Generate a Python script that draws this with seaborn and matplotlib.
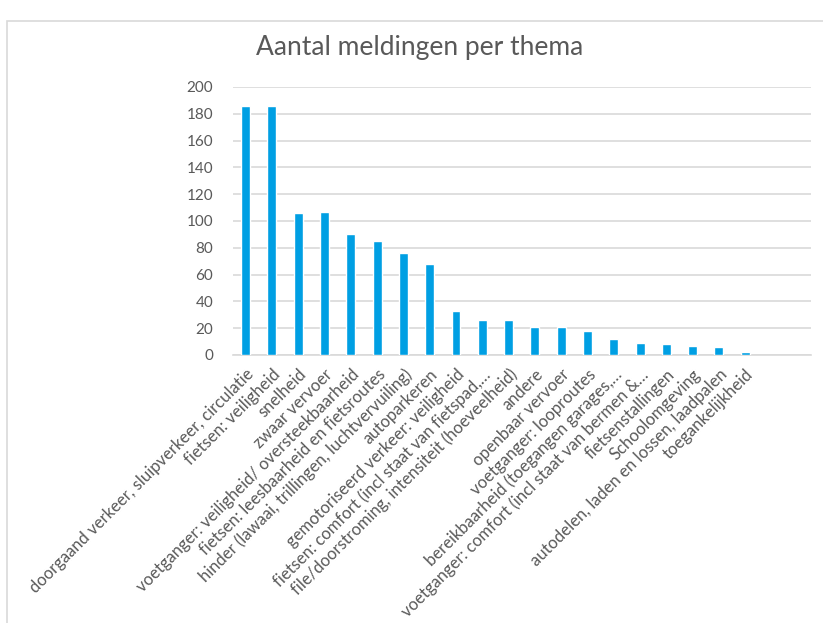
import matplotlib
matplotlib.use("Agg")
import matplotlib.pyplot as plt
from matplotlib.patches import Rectangle
import seaborn as sns

# Data
themes = [
    "doorgaand verkeer, sluipverkeer, circulatie",
    "fietsen: veiligheid",
    "snelheid",
    "zwaar vervoer",
    "voetganger: veiligheid/ oversteekbaarheid",
    "fietsen: leesbaarheid en fietsroutes",
    "hinder (lawaai, trillingen, luchtvervuiling)",
    "autoparkeren",
    "gemotoriseerd verkeer: veiligheid",
    "fietsen: comfort (incl staat van fietspad,…",
    "file/doorstroming, intensiteit (hoeveelheid)",
    "andere",
    "openbaar vervoer",
    "voetganger: looproutes",
    "bereikbaarheid (toegangen garages,…",
    "voetganger: comfort (incl staat van bermen &…",
    "fietsenstallingen",
    "Schoolomgeving",
    "autodelen, laden en lossen, laadpalen",
    "toegankelijkheid",
]
counts = [186, 186, 106, 107, 90, 85, 76, 68, 33, 26, 26, 21, 21, 18, 12, 9, 8, 7, 6, 2]
yticks = [0, 20, 40, 60, 80, 100, 120, 140, 160, 180, 200]

sns.set_theme(style="white")
plt.rcParams["font.family"] = ["Lato", "DejaVu Sans"]

text_color = "#595959"
grid_color = "#d9d9d9"
bar_color = "#009FE3"

fig = plt.figure(figsize=(8.23, 6.23), dpi=100)
ax = fig.add_axes([232.5 / 823, 1 - 355 / 623, (811 - 232.5) / 823, (355 - 87) / 623])

sns.barplot(x=themes, y=counts, color=bar_color, saturation=1, width=0.34, ax=ax, zorder=3)

# two empty slots after the last bar, like the source chart
ax.set_xlim(-0.5, len(themes) + 1.5)
ax.set_ylim(0, 200)
ax.set_yticks(yticks)
ax.yaxis.grid(True, color=grid_color, linewidth=1.2, zorder=0)
ax.set_axisbelow(True)
for side in ["top", "right", "left"]:
    ax.spines[side].set_visible(False)
ax.spines["bottom"].set_color(grid_color)
ax.spines["bottom"].set_linewidth(1.2)
ax.tick_params(axis="both", length=0, colors=text_color, labelsize=11)
ax.tick_params(axis="y", pad=14)
ax.set_xticks(range(len(themes)))
ax.set_xticklabels(themes, rotation=45, ha="right", rotation_mode="anchor", fontsize=12, color=text_color)
ax.tick_params(axis="x", pad=8)
ax.set_xlabel("")
ax.set_ylabel("")

fig.text(420 / 823, 1 - 47 / 623, "Aantal meldingen per thema", ha="center", va="center",
         fontsize=19, color=text_color)

# light chart frame
fig.patches.append(Rectangle((7.5 / 823, -0.1), 1.2, 1.1 - 21 / 623, transform=fig.transFigure,
                             fill=False, edgecolor=grid_color, linewidth=1.2))

fig.savefig("out.png", dpi=100)
plt.close(fig)
